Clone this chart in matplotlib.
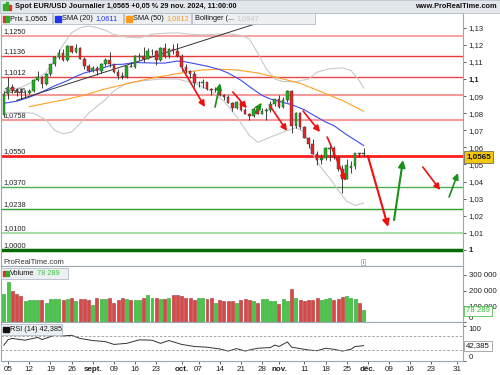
import matplotlib
matplotlib.use("Agg")
import matplotlib.pyplot as plt
from matplotlib.patches import Rectangle
import numpy as np
import pandas as pd

# daily EUR/USD bars, 2 Aug -> 29 Nov 2024 (one value per trading day)
opens = [1.0790, 1.0910, 1.0955, 1.0932, 1.0922, 1.0918, 1.0920, 1.0932, 1.0992, 1.1012,
         1.0970, 1.1028, 1.1086, 1.1130, 1.1150, 1.1113, 1.1192, 1.1160, 1.1183, 1.1118,
         1.1077, 1.1047, 1.1067, 1.1045, 1.1089, 1.1110, 1.1085, 1.1040, 1.1017, 1.1013,
         1.1078, 1.1073, 1.1130, 1.1133, 1.1117, 1.1161, 1.1164, 1.1110, 1.1180, 1.1134,
         1.1176, 1.1164, 1.1135, 1.1068, 1.1045, 1.1031, 1.0975, 1.0976, 1.0980, 1.0941,
         1.0935, 1.0938, 1.0909, 1.0893, 1.0862, 1.0833, 1.0866, 1.0817, 1.0797, 1.0783,
         1.0827, 1.0798, 1.0815, 1.0818, 1.0856, 1.0884, 1.0834, 1.0877, 1.0930, 1.0728,
         1.0801, 1.0719, 1.0655, 1.0622, 1.0564, 1.0528, 1.0540, 1.0592, 1.0597, 1.0545,
         1.0472, 1.0418, 1.0482, 1.0490, 1.0567, 1.0561]
highs = [1.0927, 1.1009, 1.0968, 1.0948, 1.0950, 1.0935, 1.0944, 1.0998, 1.1047, 1.1020,
         1.1033, 1.1090, 1.1134, 1.1175, 1.1174, 1.1201, 1.1193, 1.1202, 1.1190, 1.1128,
         1.1086, 1.1076, 1.1075, 1.1092, 1.1121, 1.1155, 1.1090, 1.1060, 1.1040, 1.1075,
         1.1101, 1.1140, 1.1150, 1.1189, 1.1180, 1.1178, 1.1170, 1.1190, 1.1213, 1.1180,
         1.1203, 1.1209, 1.1145, 1.1085, 1.1050, 1.1045, 1.0990, 1.0998, 1.0985, 1.0950,
         1.0953, 1.0942, 1.0915, 1.0905, 1.0868, 1.0870, 1.0868, 1.0830, 1.0800, 1.0835,
         1.0850, 1.0830, 1.0830, 1.0870, 1.0885, 1.0905, 1.0892, 1.0937, 1.0937, 1.0805,
         1.0805, 1.0723, 1.0660, 1.0650, 1.0580, 1.0562, 1.0600, 1.0610, 1.0610, 1.0550,
         1.0495, 1.0530, 1.0520, 1.0570, 1.0570, 1.0595]
lows = [1.0777, 1.0882, 1.0918, 1.0900, 1.0885, 1.0897, 1.0911, 1.0924, 1.0986, 1.0950,
        1.0965, 1.1018, 1.1075, 1.1115, 1.1105, 1.1105, 1.1150, 1.1150, 1.1115, 1.1058,
        1.1040, 1.1040, 1.1025, 1.1037, 1.1077, 1.1070, 1.1033, 1.1002, 1.1000, 1.1003,
        1.1070, 1.1065, 1.1110, 1.1100, 1.1115, 1.1140, 1.1083, 1.1105, 1.1120, 1.1120,
        1.1145, 1.1130, 1.1045, 1.1035, 1.1005, 1.0952, 1.0955, 1.0950, 1.0935, 1.0905,
        1.0925, 1.0900, 1.0880, 1.0860, 1.0810, 1.0825, 1.0810, 1.0795, 1.0761, 1.0780,
        1.0795, 1.0795, 1.0762, 1.0805, 1.0845, 1.0832, 1.0830, 1.0865, 1.0682, 1.0713,
        1.0710, 1.0653, 1.0595, 1.0560, 1.0497, 1.0500, 1.0525, 1.0520, 1.0530, 1.0462,
        1.0333, 1.0415, 1.0450, 1.0475, 1.0545, 1.0550]
closes = [1.0910, 1.0955, 1.0932, 1.0922, 1.0918, 1.0920, 1.0932, 1.0992, 1.1012, 1.0970,
          1.1028, 1.1086, 1.1130, 1.1150, 1.1113, 1.1192, 1.1160, 1.1183, 1.1118, 1.1077,
          1.1047, 1.1067, 1.1045, 1.1089, 1.1110, 1.1085, 1.1040, 1.1017, 1.1013, 1.1074,
          1.1073, 1.1132, 1.1133, 1.1117, 1.1161, 1.1164, 1.1110, 1.1180, 1.1134, 1.1176,
          1.1164, 1.1135, 1.1068, 1.1045, 1.1031, 1.0975, 1.0976, 1.0980, 1.0941, 1.0935,
          1.0938, 1.0909, 1.0893, 1.0862, 1.0833, 1.0866, 1.0817, 1.0797, 1.0783, 1.0827,
          1.0798, 1.0815, 1.0818, 1.0856, 1.0884, 1.0834, 1.0877, 1.0930, 1.0728, 1.0801,
          1.0719, 1.0655, 1.0622, 1.0564, 1.0528, 1.0540, 1.0596, 1.0597, 1.0545, 1.0472,
          1.0418, 1.0495, 1.0490, 1.0567, 1.0561, 1.0565]
volumes = [180, 253, 197, 176, 167, 134, 138, 142, 142, 138,
           123, 149, 149, 149, 142, 145, 155, 132, 145, 145,
           142, 106, 155, 149, 147, 155, 123, 142, 155, 149,
           138, 142, 142, 155, 170, 155, 153, 149, 149, 155,
           170, 172, 164, 153, 155, 142, 155, 153, 147, 155,
           121, 138, 134, 134, 134, 121, 138, 147, 138, 134,
           123, 147, 145, 134, 134, 117, 147, 132, 213, 155,
           142, 132, 142, 142, 155, 142, 149, 155, 142, 149,
           162, 168, 155, 149, 123, 78.289]  # thousands

# indicator readings (bar index, value)
sma20_idx = [0, 3, 6, 9, 12, 15, 17, 19, 21, 23, 26, 28, 31, 33, 36, 38, 41, 43, 46, 48,
             51, 53, 56, 58, 61, 63, 66, 68, 71, 73, 76, 78, 81, 83, 85]
sma20_val = [1.0858, 1.0870, 1.0893, 1.0925, 1.0960, 1.0990, 1.1015, 1.1035, 1.1048, 1.1062,
             1.1085, 1.1086, 1.1096, 1.1095, 1.1093, 1.1093, 1.1105, 1.1100, 1.1085, 1.1075,
             1.1055, 1.1035, 1.0993, 1.0956, 1.0904, 1.0883, 1.0863, 1.0850, 1.0820, 1.0791,
             1.0749, 1.0727, 1.0674, 1.0643, 1.0611]
sma50_idx = [6, 10, 14, 19, 23, 27, 31, 36, 39, 43, 47, 51, 55, 60, 65, 70, 75, 80, 85]
sma50_val = [1.0838, 1.0858, 1.0877, 1.0905, 1.0936, 1.0960, 1.0984, 1.1010, 1.1023, 1.1040,
             1.1053, 1.1057, 1.1053, 1.1035, 1.1006, 1.0975, 1.0925, 1.0874, 1.0812]
bb_up_idx = [0, 4, 7, 10, 12, 14, 16, 18, 20, 22, 24, 26, 29, 32, 35, 38, 41, 44, 47, 50,
             53, 56, 58, 60, 62, 64, 66, 69, 72, 74, 77, 80, 82, 84, 85]
bb_up_val = [1.0930, 1.0950, 1.0985, 1.1040, 1.1110, 1.1200, 1.1270, 1.1300, 1.1310, 1.1300,
             1.1285, 1.1260, 1.1245, 1.1240, 1.1262, 1.1268, 1.1270, 1.1262, 1.1258, 1.1262,
             1.1265, 1.1255, 1.1235, 1.1150, 1.1060, 1.1000, 1.0985, 1.0985, 1.1000, 1.1040,
             1.1060, 1.1065, 1.1050, 1.0990, 1.0947]
bb_lo_idx = [0, 4, 7, 10, 12, 14, 16, 18, 20, 22, 24, 26, 29, 33, 37, 41, 45, 49, 52, 55,
             58, 60, 63, 66, 69, 71, 73, 75, 77, 79, 81, 83, 85]
bb_lo_val = [1.0800, 1.0805, 1.0800, 1.0760, 1.0700, 1.0680, 1.0690, 1.0740, 1.0800, 1.0840,
             1.0880, 1.0930, 1.0975, 1.0990, 1.1000, 1.1000, 1.0975, 1.0930, 1.0870, 1.0780,
             1.0670, 1.0630, 1.0660, 1.0690, 1.0715, 1.0690, 1.0560, 1.0480, 1.0420, 1.0350,
             1.0285, 1.0260, 1.0275]
rsi_idx = [0, 1, 2, 5, 8, 9, 11, 13, 14, 16, 18, 21, 24, 26, 29, 32, 35, 37, 39, 42,
           45, 48, 51, 53, 55, 57, 58, 60, 63, 64, 65, 67, 68, 70, 72, 74, 76, 78, 80, 82,
           83, 85]
rsi_val = [44, 60, 63, 58, 66, 60, 68, 75, 70, 72, 63, 57, 54, 46, 49, 59, 58, 49, 57, 46,
           40, 38, 33, 27, 34, 27, 30, 35, 37, 44, 40, 53, 38, 34, 30, 28, 35, 32, 27, 32,
           40, 42.385]

# trendline and drawn arrows (bar index, price)
trend = [(3, 1.0875), (60, 1.1327)]
arrows = [
    (42.1, 1.1064, 47.5, 1.0836, "red"), (49.9, 1.0836, 51.1, 1.0975, "green"),
    (54.1, 1.0924, 57.4, 1.0829, "red"), (59.3, 1.0799, 60.9, 1.0861, "green"),
    (62.9, 1.0842, 66.9, 1.0696, "red"), (70.7, 1.0813, 74.7, 1.0690, "red"),
    (76.4, 1.0661, 80.8, 1.0404, "red"), (86.0, 1.0550, 90.8, 1.0135, "red"),
    (92.2, 1.0175, 94.3, 1.0526, "green"), (99.0, 1.0485, 103.1, 1.0351, "red"),
    (105.2, 1.0310, 107.3, 1.0450, "green"),
]

levels = [1.1250, 1.1136, 1.1012, 1.0906, 1.0758, 1.0550, 1.0370, 1.0238, 1.0100, 1.0000]
level_colors = ["#f5a3a3", "#e83a3a", "#e84444", "#f59a9a", "#f39a9a",
                "#ff1f1f", "#4fae4f", "#2e9e2e", "#a8dca8", "#006b00"]
level_widths = [1.5, 1.0, 1.0, 1.5, 1.5, 2.0, 1.0, 1.0, 1.5, 2.5]

tick_dates = ["2024-08-05", "2024-08-12", "2024-08-19", "2024-08-26", "2024-09-02",
              "2024-09-09", "2024-09-16", "2024-09-23", "2024-10-01", "2024-10-07",
              "2024-10-14", "2024-10-21", "2024-10-28", "2024-11-01", "2024-11-11",
              "2024-11-18", "2024-11-25", "2024-12-02", "2024-12-09", "2024-12-16",
              "2024-12-23", "2024-12-31"]
tick_labels = ["05", "12", "19", "26", "sept.", "09", "16", "23", "oct.", "07", "14", "21",
               "28", "nov.", "11", "18", "25", "déc.", "09", "16", "23", "31"]

plt.rcParams["font.family"] = ["Liberation Sans", "DejaVu Sans"]

W, H = 500, 375
def fx(x): return x / W
def fy(y): return 1 - y / H

fig = plt.figure(figsize=(5, 3.75), dpi=100)
fig.patch.set_facecolor("white")

L, R = 1, 463
ax = fig.add_axes([fx(L), fy(266), fx(R) - fx(L), fy(13) - fy(266)])
axv = fig.add_axes([fx(L), fy(322), fx(R) - fx(L), fy(266) - fy(322)], sharex=ax)
axr = fig.add_axes([fx(L), fy(361), fx(R) - fx(L), fy(322) - fy(361)], sharex=ax)

dates = pd.bdate_range("2024-08-02", "2024-12-31")
x = np.arange(len(closes))
o, h, l, c = map(np.array, (opens, highs, lows, closes))
up = c >= o

spine_col = "#9aa7b4"
for a in (ax, axv, axr):
    for s in a.spines.values():
        s.set_color(spine_col)
        s.set_linewidth(0.8)
    a.yaxis.tick_right()
    a.tick_params(axis="y", length=2.5, width=0.5, pad=1.5, labelsize=5.6, colors="#222")
ax.tick_params(axis="x", bottom=False, labelbottom=False)
axv.tick_params(axis="x", bottom=False, labelbottom=False)

ax.set_xlim(-0.68, 108.49)
ax.set_ylim(0.990643, 1.138596)

# support / resistance lines
for lv, col, lw in zip(levels, level_colors, level_widths):
    ax.axhline(lv, color=col, lw=lw, zorder=1)
    ax.text(0.006, lv + 0.0005, f"{lv:.4f}".replace(".", ","), transform=ax.get_yaxis_transform(),
            fontsize=5.3, color="#222", va="bottom", ha="left", zorder=1.5)

ax.plot(bb_up_idx, bb_up_val, color="#c9c9c9", lw=0.8, zorder=2)
ax.plot(bb_lo_idx, bb_lo_val, color="#c9c9c9", lw=0.8, zorder=2)
ax.plot(sma50_idx, sma50_val, color="#ffa126", lw=0.8, zorder=2)
ax.plot(sma20_idx, sma20_val, color="#3d4cf0", lw=0.8, zorder=2)
ax.plot([trend[0][0], trend[1][0]], [trend[0][1], trend[1][1]], color="#333", lw=0.7, zorder=2)

# candles
ax.vlines(x, l, h, color="#222", lw=0.6, zorder=3)
body_lo = np.minimum(o, c)
body_h = np.maximum(np.abs(c - o), 0.00025)
ax.bar(x, body_h, bottom=body_lo, width=0.62, color=np.where(up, "#1fb01f", "#e8232a"),
       edgecolor="#333", linewidth=0.3, zorder=4)

for x0, p0, x1, p1, col in arrows:
    big = abs(p1 - p0) > 0.03
    ax.annotate("", xy=(x1, p1), xytext=(x0, p0),
                arrowprops=dict(arrowstyle="-|>", color="#f01010" if col == "red" else "#1a8f1a",
                                lw=1.5 if big else 1.2, mutation_scale=10 if big else 9,
                                shrinkA=0, shrinkB=0),
                zorder=5)

yt = [1.13, 1.12, 1.11, 1.10, 1.09, 1.08, 1.07, 1.06, 1.05, 1.04, 1.03, 1.02, 1.01, 1.00]
ax.set_yticks(yt)
ax.set_yticklabels([("%.2f" % v).rstrip("0").rstrip(".").replace(".", ",") for v in yt])
for t in ax.get_yticklabels():
    if t.get_text() in ("1,1", "1"):
        t.set_fontweight("bold")

# volume
vol = np.array(volumes) * 1000
axv.bar(x, vol, width=0.7, color=np.where(up, "#45c945", "#db4646"),
        edgecolor=np.where(up, "#2a9a2a", "#a83030"), linewidth=0.4)
axv.set_ylim(0, 356700)
axv.set_yticks([0, 100000, 200000, 300000])
axv.set_yticklabels(["0", "100 000", "200 000", "300 000"])
axv.get_yticklabels()[0].set_va("bottom")

# RSI
axr.plot(rsi_idx, rsi_val, color="#333", lw=0.7)
axr.axhline(70, color="#999", lw=0.6, ls=(0, (3, 2)))
axr.axhline(30, color="#999", lw=0.6, ls=(0, (3, 2)))
axr.set_ylim(-1.4, 110)
axr.set_yticks([0, 100])
axr.set_yticklabels(["0", "100"])
axr.get_yticklabels()[0].set_va("bottom")
axr.get_yticklabels()[1].set_va("top")

tick_pos = [dates.get_loc(pd.Timestamp(d)) for d in tick_dates]
axr.set_xticks(tick_pos)
axr.set_xticklabels(tick_labels)
axr.tick_params(axis="x", length=2, width=0.5, pad=1.5, labelsize=5.8, colors="#222")
for t in axr.get_xticklabels():
    if t.get_text().endswith("."):
        t.set_fontweight("bold")

# header bar and legend boxes
fig.add_artist(Rectangle((0, fy(12.5)), 1, 12.5 / H, transform=fig.transFigure,
                         facecolor="#e3e7eb", edgecolor="#b8c2cc", lw=0.6))
fig.add_artist(Rectangle((fx(3), fy(10)), fx(2), 6 / H, transform=fig.transFigure, color="#2bb02b"))
fig.add_artist(Rectangle((fx(6), fy(10)), fx(2), 8 / H, transform=fig.transFigure, color="#2bb02b"))
fig.add_artist(Rectangle((fx(9), fy(10)), fx(2), 5 / H, transform=fig.transFigure, color="#e03030"))
fig.text(fx(15), fy(6.5), "Spot EUR/USD Journalier 1,0565 +0,05 % 29 nov. 2024, 11:00:00",
         fontsize=5.3, fontweight="bold", va="center", ha="left", color="#111")
fig.text(fx(497), fy(6.5), "www.ProRealTime.com", fontsize=5.3, fontweight="bold",
         va="center", ha="right", color="#111")

renderer = fig.canvas.get_renderer()

def legend_box(x0, x1, y0, y1, icon, parts):
    fig.add_artist(Rectangle((fx(x0), fy(y1)), fx(x1 - x0), (y1 - y0) / H, transform=fig.transFigure,
                             facecolor="#edf0f3", edgecolor="#b4bec8", lw=0.6, zorder=10))
    for k, ic in enumerate(icon):
        fig.add_artist(Rectangle((fx(x0 + 2 + k * 3), fy(y1 - 2.5)), fx(3), (y1 - y0 - 5) / H,
                                 transform=fig.transFigure, color=ic, zorder=11))
    xt = x0 + 3 + 3 * len(icon) if icon else x0 + 3
    for txt, col in parts:
        t = fig.text(fx(xt), fy((y0 + y1) / 2), txt, fontsize=5.3, color=col,
                     va="center", ha="left", zorder=12)
        xt = t.get_window_extent(renderer=renderer).x1 + 2.5

legend_box(1, 52, 13.5, 24, ["#e03030", "#2bb02b"], [("Prix 1,0565", "#111")])
legend_box(53, 123, 13.5, 24, ["#2233ee", "#2233ee"], [("SMA (20)", "#111"), ("1,0611", "#2233ee")])
legend_box(124, 191, 13.5, 24, ["#ff9a1a", "#ff9a1a"], [("SMA (50)", "#111"), ("1,0812", "#ff9a1a")])
legend_box(192, 315, 13.5, 24, [], [("Bollinger (...", "#111"), ("1,0947", "#c8c8c8")])
legend_box(1, 68, 268, 278.5, ["#e03030", "#2bb02b"], [("Volume", "#111"), ("78 289", "#3cc43c")])
legend_box(1, 62, 324, 334.5, ["#111", "#111"], [("RSI (14) 42,385", "#111")])

fig.text(fx(3), fy(262), "ProRealTime.com", fontsize=5.5, color="#333", va="center", ha="left")
fig.text(fx(363), fy(262), "i", fontsize=4.5, color="#555", va="center", ha="center",
         bbox=dict(boxstyle="square,pad=0.15", facecolor="white", edgecolor="#aaa", lw=0.5))

# value tags on the right scale
fig.text(fx(466), fy(157), "1,0565", fontsize=5.8, fontweight="bold", color="#111", va="center",
         ha="left", bbox=dict(boxstyle="square,pad=0.25", facecolor="#f2c80f", edgecolor="#555", lw=0.5))
fig.text(fx(466), fy(311), "78 289", fontsize=5.6, color="#33b533", va="center", ha="left",
         bbox=dict(boxstyle="square,pad=0.25", facecolor="white", edgecolor="#33b533", lw=0.5))
fig.text(fx(466), fy(346), "42,385", fontsize=5.6, color="#111", va="center", ha="left",
         bbox=dict(boxstyle="square,pad=0.25", facecolor="white", edgecolor="#888", lw=0.5))

fig.savefig("out.png", dpi=100)
